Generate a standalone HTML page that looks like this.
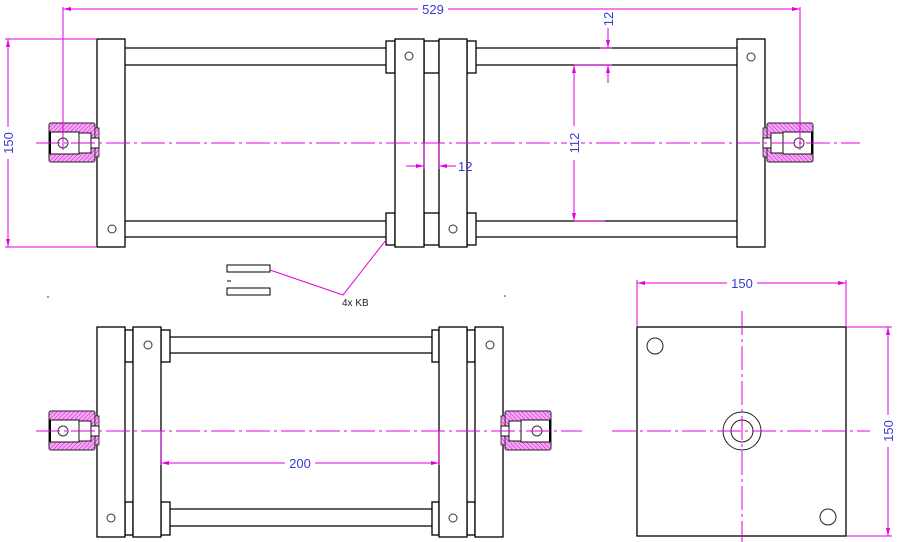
<!DOCTYPE html>
<html><head><meta charset="utf-8"><style>
html,body{margin:0;padding:0;background:#fff;}
svg{display:block;}
text{font-family:"Liberation Sans",sans-serif;font-size:13px;fill:#3a3ad8;}
</style></head><body>
<svg width="900" height="542" viewBox="0 0 900 542" xmlns="http://www.w3.org/2000/svg">
<defs>
<pattern id="h" width="3" height="3" patternUnits="userSpaceOnUse" patternTransform="rotate(45)">
<rect width="3" height="3" fill="#f6a8f6"/><line x1="0" y1="0" x2="0" y2="3" stroke="#d010d0" stroke-width="1"/>
</pattern>
<g id="cp">
<rect x="-48" y="-20" width="46" height="39" rx="2" fill="url(#h)" stroke="#222" stroke-width="1"/>
<rect x="-2" y="-15" width="4" height="29" fill="url(#h)" stroke="#222" stroke-width="0.8"/>
<rect x="-47" y="-11" width="29" height="22" fill="#fff" stroke="#111"/>
<rect x="-18" y="-10" width="12" height="20" fill="#fff" stroke="#111"/>
<rect x="-6" y="-5" width="8" height="10" fill="#fff" stroke="#111"/>
<line x1="-47" y1="-11" x2="-47" y2="11" stroke="#000" stroke-width="2"/>
<circle cx="-34" cy="0" r="5" fill="none" stroke="#333"/>
</g>
<marker id="a" markerWidth="8" markerHeight="6" refX="8" refY="3" orient="auto-start-reverse" markerUnits="userSpaceOnUse"><path d="M0,1 L8,3 L0,5z" fill="#e000e0"/></marker>
</defs>
<g fill="none" stroke="#000" stroke-width="1.3">
<!-- TOP VIEW -->
<rect x="97" y="39" width="28" height="208" fill="#fff"/>
<rect x="737" y="39" width="28" height="208" fill="#fff"/>
<line x1="125" y1="48" x2="386" y2="48"/><line x1="125" y1="65" x2="386" y2="65"/>
<line x1="125" y1="221" x2="386" y2="221"/><line x1="125" y1="237" x2="386" y2="237"/>
<line x1="476" y1="48" x2="737" y2="48"/><line x1="476" y1="65" x2="737" y2="65"/>
<line x1="476" y1="221" x2="737" y2="221"/><line x1="476" y1="237" x2="737" y2="237"/>
<rect x="386" y="41" width="9" height="32"/><rect x="467" y="41" width="9" height="32"/>
<rect x="424" y="41" width="15" height="32"/>
<rect x="386" y="213" width="9" height="32"/><rect x="467" y="213" width="9" height="32"/>
<rect x="424" y="213" width="15" height="32"/>
<rect x="395" y="39" width="29" height="208" fill="#fff"/>
<rect x="439" y="39" width="28" height="208" fill="#fff"/>
<g stroke-width="1" stroke="#333">
<circle cx="112" cy="229" r="4"/><circle cx="751" cy="57" r="4"/>
<circle cx="409" cy="56" r="4"/><circle cx="453" cy="229" r="4"/>
</g>
<!-- FRONT VIEW -->
<rect x="125" y="330" width="8" height="32"/><rect x="125" y="502" width="8" height="33"/>
<rect x="161" y="330" width="9" height="32"/><rect x="161" y="502" width="9" height="33"/>
<rect x="432" y="330" width="7" height="32"/><rect x="432" y="502" width="7" height="33"/>
<rect x="467" y="330" width="8" height="32"/><rect x="467" y="502" width="8" height="33"/>
<line x1="170" y1="337" x2="432" y2="337"/><line x1="170" y1="353" x2="432" y2="353"/>
<line x1="170" y1="509" x2="432" y2="509"/><line x1="170" y1="526" x2="432" y2="526"/>
<rect x="97" y="327" width="28" height="210" fill="#fff"/>
<rect x="133" y="327" width="28" height="210" fill="#fff"/>
<rect x="439" y="327" width="28" height="210" fill="#fff"/>
<rect x="475" y="327" width="28" height="210" fill="#fff"/>
<g stroke-width="1" stroke="#333">
<circle cx="148" cy="345" r="4"/><circle cx="111" cy="518" r="4"/>
<circle cx="490" cy="345" r="4"/><circle cx="453" cy="518" r="4"/>
</g>
<!-- SIDE VIEW -->
<rect x="637" y="327" width="209" height="209"/>
<g stroke-width="1" stroke="#222">
<circle cx="655" cy="346" r="8"/><circle cx="828" cy="517" r="8"/>
<circle cx="742" cy="431" r="19"/><circle cx="742" cy="431" r="11"/>
</g>
<!-- KB symbols -->
<rect x="227" y="265" width="43" height="7" stroke-width="1"/>
<rect x="227" y="288" width="43" height="7" stroke-width="1"/>
<line x1="227" y1="281" x2="231" y2="281" stroke-width="1"/>
</g>
<use href="#cp" transform="translate(97,143)"/>
<use href="#cp" transform="translate(765,143) scale(-1,1)"/>
<use href="#cp" transform="translate(97,431)"/>
<use href="#cp" transform="translate(503,431) scale(-1,1)"/>
<!-- center lines -->
<g stroke="#e000e0" stroke-width="1" fill="none" stroke-dasharray="24 4 3 4">
<line x1="36" y1="143" x2="860" y2="143"/>
<line x1="36" y1="431" x2="582" y2="431"/>
<line x1="612" y1="431" x2="870" y2="431"/>
<line x1="742" y1="311" x2="742" y2="542"/>
</g>
<!-- dimensions -->
<g stroke="#e000e0" stroke-width="1" fill="none">
<line x1="63" y1="9" x2="800" y2="9" marker-start="url(#a)" marker-end="url(#a)"/>
<line x1="63" y1="7" x2="63" y2="150"/><line x1="800" y1="7" x2="800" y2="150"/>
<line x1="8" y1="39" x2="8" y2="247" marker-start="url(#a)" marker-end="url(#a)"/>
<line x1="5" y1="39" x2="97" y2="39"/><line x1="5" y1="247" x2="97" y2="247"/>
<line x1="608" y1="28" x2="608" y2="48" marker-end="url(#a)"/>
<line x1="608" y1="83" x2="608" y2="65" marker-end="url(#a)"/>
<line x1="600" y1="48" x2="612" y2="48"/>
<line x1="574" y1="65" x2="612" y2="65"/>
<line x1="574" y1="65" x2="574" y2="221" marker-start="url(#a)" marker-end="url(#a)"/>
<line x1="574" y1="221" x2="605" y2="221"/>
<line x1="406" y1="166" x2="424" y2="166" marker-end="url(#a)"/>
<line x1="456" y1="166" x2="439" y2="166" marker-end="url(#a)"/>
<line x1="424" y1="143" x2="424" y2="169"/><line x1="439" y1="143" x2="439" y2="169"/>
<line x1="161" y1="463" x2="439" y2="463" marker-start="url(#a)" marker-end="url(#a)"/>
<line x1="161" y1="431" x2="161" y2="465"/><line x1="439" y1="431" x2="439" y2="465"/>
<line x1="637" y1="283" x2="846" y2="283" marker-start="url(#a)" marker-end="url(#a)"/>
<line x1="637" y1="280" x2="637" y2="327"/><line x1="846" y1="280" x2="846" y2="327"/>
<line x1="888" y1="327" x2="888" y2="536" marker-start="url(#a)" marker-end="url(#a)"/>
<line x1="846" y1="327" x2="892" y2="327"/><line x1="846" y1="536" x2="892" y2="536"/>
<polyline points="386,240 343,295 270,270"/>
</g>
<!-- labels -->
<rect x="418" y="2" width="30" height="14" fill="#fff"/>
<text x="433" y="14" text-anchor="middle">529</text>
<rect x="1" y="127" width="14" height="32" fill="#fff"/>
<text transform="translate(13,143) rotate(-90)" text-anchor="middle">150</text>
<rect x="601" y="10" width="14" height="18" fill="#fff"/>
<text transform="translate(613,19) rotate(-90)" text-anchor="middle">12</text>
<rect x="567" y="126" width="14" height="34" fill="#fff"/>
<text transform="translate(579,143) rotate(-90)" text-anchor="middle">112</text>
<text x="458" y="171">12</text>
<rect x="285" y="456" width="30" height="14" fill="#fff"/>
<text x="300" y="468" text-anchor="middle">200</text>
<rect x="727" y="276" width="30" height="14" fill="#fff"/>
<text x="742" y="288" text-anchor="middle">150</text>
<rect x="881" y="415" width="14" height="32" fill="#fff"/>
<text transform="translate(893,431) rotate(-90)" text-anchor="middle">150</text>
<text x="342" y="306" style="font-size:10px;fill:#222">4x  KB</text>
<circle cx="48" cy="297" r="0.8" fill="#333"/><circle cx="505" cy="296" r="0.8" fill="#333"/>
</svg>
</body></html>
